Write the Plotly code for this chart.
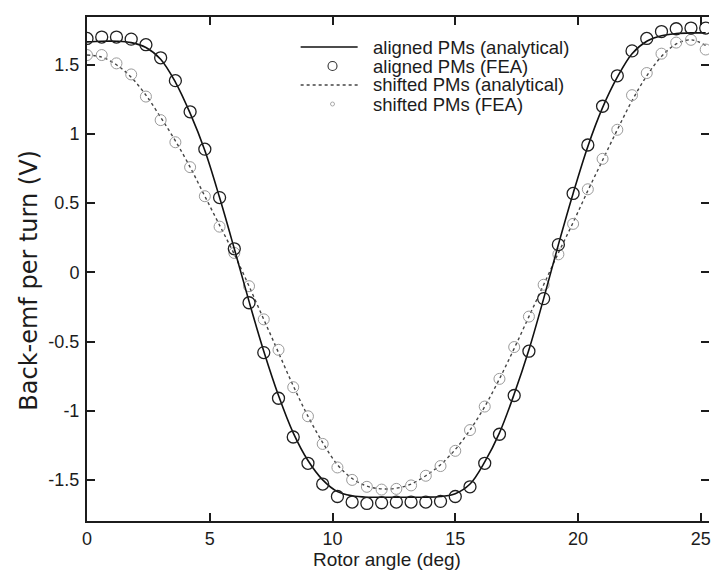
import plotly.graph_objects as go

# Rotor angle grid of the FEA samples (deg)
angle = [0.0, 0.6, 1.2, 1.8, 2.4, 3.0, 3.6, 4.2, 4.8, 5.4, 6.0, 6.6, 7.2, 7.8,
         8.4, 9.0, 9.6, 10.2, 10.8, 11.4, 12.0, 12.6, 13.2, 13.8, 14.4, 15.0,
         15.6, 16.2, 16.8, 17.4, 18.0, 18.6, 19.2, 19.8, 20.4, 21.0, 21.6,
         22.2, 22.8, 23.4, 24.0, 24.6, 25.2]

# Back-emf per turn (V)
aligned_analytical = [1.665, 1.67, 1.67, 1.66, 1.625, 1.54, 1.375, 1.15, 0.88,
                      0.54, 0.17, -0.21, -0.57, -0.89, -1.16, -1.36, -1.50,
                      -1.585, -1.615, -1.625, -1.625, -1.625, -1.625, -1.625,
                      -1.62, -1.60, -1.53, -1.37, -1.16, -0.88, -0.56, -0.19,
                      0.20, 0.57, 0.91, 1.19, 1.41, 1.58, 1.67, 1.71, 1.725,
                      1.73, 1.73]
aligned_fea = [1.69, 1.70, 1.70, 1.685, 1.645, 1.55, 1.385, 1.16, 0.89, 0.54,
               0.17, -0.22, -0.58, -0.91, -1.19, -1.38, -1.53, -1.62, -1.66,
               -1.67, -1.665, -1.66, -1.66, -1.66, -1.655, -1.62, -1.55,
               -1.38, -1.17, -0.89, -0.57, -0.19, 0.20, 0.57, 0.92, 1.20,
               1.42, 1.60, 1.69, 1.74, 1.76, 1.765, 1.765]
shifted_analytical = [1.57, 1.555, 1.50, 1.41, 1.28, 1.12, 0.95, 0.76, 0.55,
                      0.34, 0.13, -0.10, -0.34, -0.58, -0.82, -1.04, -1.23,
                      -1.39, -1.49, -1.545, -1.565, -1.56, -1.53, -1.47, -1.39,
                      -1.28, -1.14, -0.97, -0.77, -0.55, -0.32, -0.09, 0.14,
                      0.36, 0.59, 0.81, 1.03, 1.24, 1.42, 1.56, 1.65, 1.68,
                      1.64]
shifted_fea = [1.57, 1.57, 1.51, 1.43, 1.27, 1.10, 0.94, 0.76, 0.55, 0.33,
               0.14, -0.10, -0.34, -0.56, -0.83, -1.04, -1.24, -1.41, -1.50,
               -1.55, -1.57, -1.565, -1.54, -1.47, -1.40, -1.29, -1.14, -0.97,
               -0.77, -0.54, -0.32, -0.09, 0.13, 0.35, 0.60, 0.82, 1.03, 1.28,
               1.44, 1.58, 1.66, 1.68, 1.61]

legend_labels = ["aligned PMs (analytical)", "aligned PMs (FEA)",
                 "shifted PMs (analytical)", "shifted PMs (FEA)"]
x_ticks = [0, 5, 10, 15, 20, 25]
x_tick_text = ["0", "5", "10", "15", "20", "25"]
y_ticks = [-1.5, -1, -0.5, 0, 0.5, 1, 1.5]
y_tick_text = ["-1.5", "-1", "-0.5", "0", "0.5", "1", "1.5"]
x_title = "Rotor angle (deg)"
y_title = "Back-emf per turn (V)"

# Figure geometry (pixels)
W, H = 711, 575
L, R, T, B = 86.5, 0, 17, 54
X_RANGE = [0, 25.335]
Y_RANGE = [-1.797, 1.845]

SANS = "Liberation Sans, Arial, Helvetica, sans-serif"
WIDE = "DejaVu Sans, Verdana, sans-serif"
INK = "#1c1c1c"


def px(xp):
    return (xp - L) / (W - L - R)


def py(yp):
    return (H - B - yp) / (H - T - B)


fig = go.Figure()

fig.add_trace(go.Scatter(x=angle, y=shifted_analytical, mode="lines",
                         line=dict(color="#444444", width=1.4, dash="dot",
                                   shape="spline"),
                         showlegend=False, hoverinfo="skip"))
fig.add_trace(go.Scatter(x=angle, y=shifted_fea, mode="markers",
                         marker=dict(symbol="circle-open", size=11,
                                     color="#9a9a9a", line=dict(width=1)),
                         showlegend=False, hoverinfo="skip"))
fig.add_trace(go.Scatter(x=angle, y=aligned_analytical, mode="lines",
                         line=dict(color="#111111", width=1.6, shape="spline"),
                         showlegend=False, hoverinfo="skip"))
fig.add_trace(go.Scatter(x=angle, y=aligned_fea, mode="markers",
                         marker=dict(symbol="circle-open", size=12,
                                     color="#202020", line=dict(width=1.3)),
                         showlegend=False, hoverinfo="skip"))
# right-hand tick marks (no axis line on that side)
fig.add_trace(go.Scatter(x=[None], y=[None], yaxis="y2", showlegend=False,
                         hoverinfo="skip"))

axis_common = dict(showgrid=False, zeroline=False, ticks="inside", ticklen=8,
                   tickwidth=1.5, tickcolor=INK,
                   tickfont=dict(family=SANS, size=18, color=INK))

fig.update_layout(
    width=W, height=H,
    margin=dict(l=L, r=R, t=T, b=B, pad=0),
    paper_bgcolor="white", plot_bgcolor="white",
    showlegend=False,
    xaxis=dict(range=X_RANGE, tickvals=x_ticks, ticktext=x_tick_text,
               showline=True, linewidth=2, linecolor=INK, mirror="ticks",
               ticklabelstandoff=0, ticklabeloverflow="allow",
               **axis_common),
    yaxis=dict(range=Y_RANGE, tickvals=y_ticks, ticktext=y_tick_text,
               showline=True, linewidth=2, linecolor=INK, mirror=False,
               ticklabelstandoff=2, **axis_common),
    yaxis2=dict(range=Y_RANGE, tickvals=y_ticks, overlaying="y", side="right",
                showline=False, showticklabels=False, **axis_common),
)

# axis titles
fig.add_annotation(text=x_title, x=px(388), y=py(559), xref="paper",
                   yref="paper", showarrow=False, xanchor="center",
                   yanchor="middle",
                   font=dict(family=SANS, size=19, color=INK))
fig.add_annotation(text=y_title, x=px(28), y=py(280), xref="paper",
                   yref="paper", showarrow=False, textangle=-90,
                   xanchor="center", yanchor="middle",
                   font=dict(family=WIDE, size=24, color=INK))

# legend, drawn without a box
rows = [47, 66, 85, 104]
sample_x0, sample_len, marker_x = 301, 57, 333
fig.add_shape(type="line", xref="paper", yref="paper", xsizemode="pixel",
              ysizemode="pixel", xanchor=px(sample_x0), yanchor=py(rows[0]),
              x0=0, x1=sample_len, y0=0, y1=0,
              line=dict(color="#111111", width=1.5))
fig.add_shape(type="circle", xref="paper", yref="paper", xsizemode="pixel",
              ysizemode="pixel", xanchor=px(marker_x), yanchor=py(rows[1]),
              x0=-4.5, x1=4.5, y0=-4.5, y1=4.5,
              line=dict(color="#333333", width=1.1))
fig.add_shape(type="line", xref="paper", yref="paper", xsizemode="pixel",
              ysizemode="pixel", xanchor=px(sample_x0), yanchor=py(rows[2]),
              x0=0, x1=sample_len, y0=0, y1=0,
              line=dict(color="#444444", width=1.4, dash="dot"))
fig.add_shape(type="circle", xref="paper", yref="paper", xsizemode="pixel",
              ysizemode="pixel", xanchor=px(marker_x), yanchor=py(rows[3]),
              x0=-2, x1=2, y0=-2, y1=2,
              line=dict(color="#aaaaaa", width=1))
for label, row in zip(legend_labels, rows):
    fig.add_annotation(text=label, x=px(372), y=py(row), xref="paper",
                       yref="paper", showarrow=False, xanchor="left",
                       yanchor="middle",
                       font=dict(family=SANS, size=18.5, color=INK))

fig.write_html("out.html")
